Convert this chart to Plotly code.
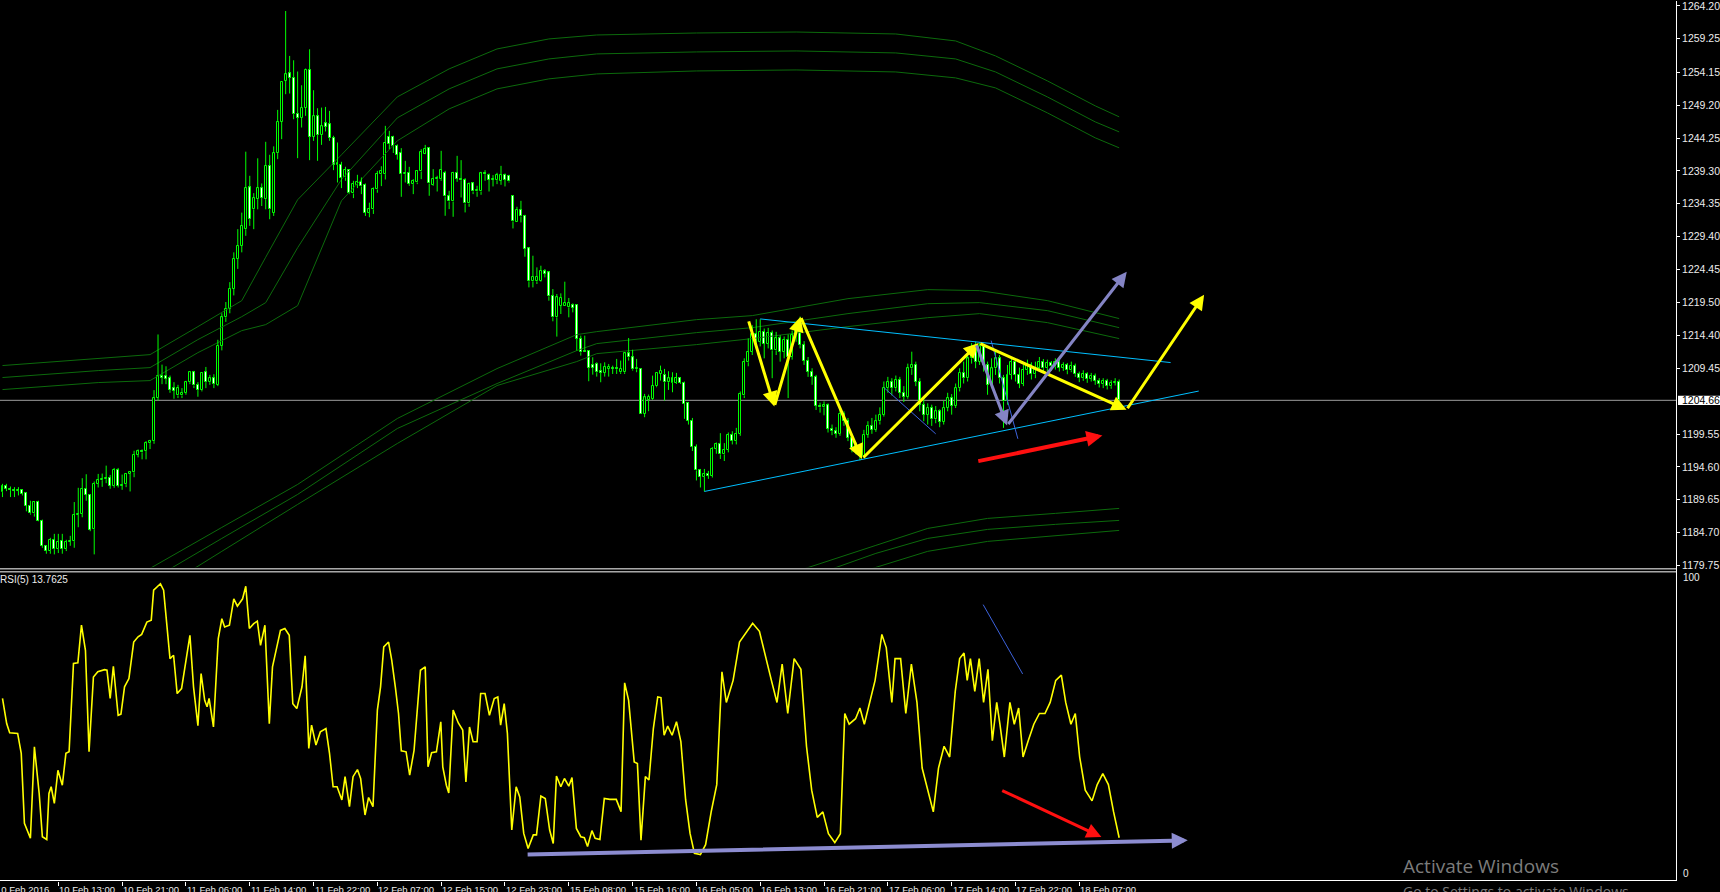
import plotly.graph_objects as go

# ---------------- DATA ----------------
# M30 candles, bar index 0..280 : (open, high, low, close)
bars = [
    (1190.80, 1192.05, 1190.05, 1191.75), (1191.75, 1192.05, 1190.95, 1191.25), (1191.25, 1191.65, 1190.05, 1191.10),
    (1191.10, 1191.55, 1190.05, 1191.00), (1191.00, 1191.55, 1190.30, 1191.10), (1191.10, 1191.25, 1190.30, 1190.50),
    (1190.70, 1190.75, 1187.90, 1188.70), (1188.70, 1189.50, 1187.40, 1187.60), (1187.60, 1189.40, 1187.10, 1189.30),
    (1189.30, 1189.50, 1186.40, 1186.50), (1186.50, 1186.65, 1182.40, 1182.65), (1182.65, 1182.80, 1181.50, 1181.90),
    (1181.90, 1183.90, 1181.50, 1183.60), (1183.60, 1184.50, 1181.40, 1182.20), (1182.20, 1184.50, 1181.60, 1183.30),
    (1183.40, 1184.50, 1181.50, 1182.20), (1182.20, 1183.60, 1181.90, 1183.30), (1183.30, 1184.20, 1182.70, 1183.40),
    (1183.40, 1189.30, 1182.40, 1187.35), (1187.35, 1191.45, 1185.50, 1187.50), (1187.50, 1192.90, 1187.00, 1191.30),
    (1191.30, 1193.50, 1189.50, 1190.40), (1190.40, 1190.50, 1184.90, 1185.10), (1185.20, 1192.40, 1181.40, 1192.10),
    (1192.05, 1193.55, 1191.50, 1192.60), (1192.60, 1193.60, 1191.60, 1192.80), (1192.75, 1194.80, 1192.15, 1192.95),
    (1192.95, 1193.40, 1191.30, 1191.75), (1191.75, 1194.45, 1191.45, 1194.15), (1194.15, 1194.45, 1191.50, 1191.80),
    (1191.80, 1193.45, 1191.15, 1191.95), (1192.00, 1193.65, 1191.55, 1193.55), (1193.55, 1193.95, 1190.90, 1193.80),
    (1193.80, 1197.05, 1193.05, 1196.45), (1196.45, 1197.25, 1196.05, 1196.95), (1196.95, 1197.25, 1195.75, 1196.80),
    (1197.00, 1198.50, 1195.75, 1198.20), (1198.20, 1198.70, 1197.30, 1198.50), (1198.50, 1206.20, 1198.10, 1205.00),
    (1205.00, 1214.60, 1204.60, 1208.40), (1208.40, 1210.05, 1207.10, 1208.10), (1208.40, 1209.80, 1207.10, 1207.90),
    (1208.00, 1208.40, 1205.80, 1206.20), (1206.50, 1207.40, 1204.90, 1206.10), (1205.40, 1207.00, 1205.00, 1206.50),
    (1205.40, 1206.50, 1205.00, 1205.80), (1205.80, 1207.60, 1205.50, 1207.40), (1207.40, 1209.00, 1207.10, 1208.90),
    (1208.90, 1209.10, 1206.50, 1206.90), (1207.00, 1207.40, 1205.20, 1206.20), (1206.20, 1208.90, 1206.00, 1208.80),
    (1208.90, 1209.70, 1206.50, 1207.40), (1207.40, 1208.50, 1207.00, 1208.00), (1208.00, 1208.60, 1206.50, 1207.10),
    (1207.00, 1213.80, 1206.80, 1212.90), (1212.90, 1217.80, 1212.20, 1217.20), (1217.20, 1219.50, 1216.50, 1218.50),
    (1218.50, 1222.50, 1217.80, 1221.50), (1221.50, 1227.00, 1220.50, 1226.00), (1226.00, 1230.50, 1224.50, 1228.00),
    (1228.00, 1233.00, 1227.00, 1231.00), (1230.50, 1242.20, 1229.50, 1236.70), (1236.80, 1238.56, 1231.00, 1232.00),
    (1233.50, 1235.94, 1230.50, 1235.20), (1235.04, 1241.20, 1233.50, 1236.70), (1236.70, 1237.40, 1234.00, 1235.20),
    (1235.04, 1243.69, 1233.50, 1240.07), (1240.07, 1241.73, 1232.00, 1233.50), (1233.00, 1243.00, 1232.50, 1241.98),
    (1241.98, 1248.51, 1241.07, 1246.70), (1246.70, 1252.74, 1244.09, 1252.74), (1252.90, 1263.44, 1250.88, 1253.89),
    (1254.04, 1256.66, 1250.98, 1253.39), (1253.39, 1256.00, 1247.10, 1247.86), (1247.96, 1254.30, 1241.22, 1247.36),
    (1247.36, 1252.23, 1245.85, 1248.86), (1248.86, 1254.75, 1247.61, 1254.55), (1254.55, 1257.66, 1240.92, 1244.49),
    (1244.49, 1251.48, 1243.84, 1247.56), (1247.56, 1248.76, 1240.82, 1244.70), (1244.70, 1248.86, 1243.23, 1246.05),
    (1246.50, 1248.96, 1245.25, 1246.00), (1246.35, 1248.36, 1243.84, 1244.24), (1244.34, 1244.60, 1239.41, 1240.22),
    (1240.22, 1243.59, 1237.55, 1240.42), (1240.17, 1240.67, 1236.70, 1238.21), (1238.31, 1239.92, 1237.80, 1239.46),
    (1239.41, 1239.56, 1235.79, 1235.89), (1235.89, 1237.80, 1235.19, 1237.35), (1237.20, 1238.71, 1236.70, 1237.65),
    (1237.65, 1238.31, 1235.79, 1236.95), (1237.20, 1237.40, 1232.50, 1233.00), (1233.00, 1234.50, 1232.30, 1233.50),
    (1233.50, 1236.80, 1232.80, 1236.50), (1236.50, 1239.30, 1236.00, 1238.81), (1238.80, 1240.00, 1237.00, 1239.30),
    (1238.81, 1246.10, 1238.00, 1243.49), (1244.44, 1245.35, 1242.58, 1243.33), (1244.44, 1244.60, 1242.00, 1243.03),
    (1243.08, 1243.30, 1241.00, 1241.73), (1241.97, 1242.73, 1235.39, 1238.81), (1238.81, 1240.82, 1237.55, 1239.01),
    (1239.01, 1239.91, 1237.05, 1237.30), (1237.30, 1238.05, 1235.79, 1237.80), (1237.55, 1239.41, 1237.30, 1239.31),
    (1239.21, 1242.58, 1238.05, 1242.17), (1241.92, 1243.23, 1241.82, 1242.58), (1242.73, 1242.83, 1235.54, 1237.40),
    (1237.20, 1239.56, 1237.05, 1238.05), (1238.05, 1238.56, 1236.19, 1238.20), (1238.05, 1242.33, 1237.80, 1239.41),
    (1239.01, 1239.31, 1232.52, 1235.44), (1235.44, 1236.29, 1233.53, 1234.68), (1234.68, 1239.16, 1232.37, 1239.01),
    (1239.01, 1241.57, 1237.65, 1238.15), (1238.15, 1240.92, 1235.29, 1237.90), (1237.90, 1238.20, 1233.03, 1234.38),
    (1234.38, 1237.55, 1233.88, 1237.30), (1237.40, 1237.55, 1235.79, 1236.19), (1236.19, 1237.05, 1235.39, 1236.44),
    (1236.19, 1239.16, 1235.69, 1238.91), (1238.91, 1239.41, 1237.80, 1238.81), (1238.71, 1238.91, 1236.19, 1237.95),
    (1237.95, 1238.66, 1236.95, 1238.00), (1237.90, 1239.01, 1237.30, 1238.66), (1237.80, 1240.06, 1237.20, 1238.66),
    (1238.71, 1238.91, 1236.95, 1237.95), (1238.56, 1238.71, 1237.55, 1237.70), (1235.54, 1235.54, 1230.61, 1231.67),
    (1231.52, 1233.88, 1231.52, 1233.38), (1233.43, 1234.78, 1231.52, 1232.42), (1232.52, 1232.67, 1226.34, 1227.50),
    (1227.60, 1227.75, 1221.71, 1222.62), (1222.62, 1226.49, 1221.71, 1223.32), (1222.62, 1224.73, 1222.22, 1223.32),
    (1222.62, 1224.98, 1222.52, 1224.23), (1224.13, 1224.48, 1223.22, 1223.73), (1223.98, 1224.13, 1219.70, 1220.36),
    (1220.46, 1221.46, 1216.59, 1217.19), (1217.19, 1220.71, 1214.28, 1220.21), (1218.95, 1220.81, 1217.69, 1220.11),
    (1218.95, 1222.57, 1218.95, 1219.40), (1218.70, 1220.11, 1217.19, 1219.40), (1219.10, 1219.30, 1217.94, 1218.60),
    (1219.10, 1219.10, 1212.16, 1213.92), (1213.92, 1214.43, 1211.41, 1211.91), (1212.16, 1214.43, 1211.91, 1211.91),
    (1212.16, 1212.16, 1207.54, 1209.55), (1210.05, 1211.16, 1208.54, 1209.55), (1210.15, 1210.40, 1208.24, 1208.90),
    (1209.05, 1210.25, 1207.39, 1208.80), (1208.80, 1210.40, 1208.24, 1209.75), (1209.40, 1210.15, 1208.24, 1209.75),
    (1209.55, 1209.90, 1208.64, 1209.40), (1209.45, 1210.91, 1208.64, 1209.35), (1208.90, 1210.66, 1208.64, 1209.45),
    (1208.90, 1211.91, 1208.64, 1211.76), (1211.76, 1214.07, 1210.66, 1211.16), (1211.16, 1212.30, 1209.15, 1209.35),
    (1209.35, 1210.91, 1208.90, 1209.55), (1209.40, 1209.40, 1202.61, 1202.61), (1202.61, 1205.63, 1202.11, 1205.13),
    (1204.73, 1205.53, 1203.02, 1205.23), (1204.88, 1208.39, 1204.73, 1206.89), (1206.78, 1208.90, 1206.63, 1208.80),
    (1208.64, 1209.90, 1207.64, 1209.15), (1208.49, 1209.40, 1204.63, 1207.39), (1207.39, 1209.05, 1206.23, 1207.99),
    (1207.29, 1208.90, 1205.88, 1207.99), (1207.29, 1208.80, 1207.14, 1207.99), (1207.99, 1208.14, 1207.14, 1207.29),
    (1207.34, 1207.49, 1201.86, 1204.12), (1204.22, 1204.37, 1201.00, 1201.60), (1201.60, 1202.00, 1197.00, 1197.60),
    (1197.60, 1198.00, 1192.56, 1194.07), (1194.07, 1194.30, 1191.50, 1193.10), (1193.10, 1194.30, 1190.90, 1193.60),
    (1193.60, 1194.00, 1192.80, 1193.30), (1193.30, 1197.60, 1193.00, 1197.33), (1197.33, 1198.30, 1196.60, 1198.00),
    (1198.00, 1199.70, 1195.80, 1196.50), (1196.50, 1198.20, 1195.50, 1197.20), (1197.20, 1199.80, 1196.80, 1199.40),
    (1199.40, 1200.00, 1198.00, 1198.50), (1198.50, 1200.50, 1198.00, 1199.60), (1199.60, 1206.00, 1199.30, 1205.60),
    (1205.40, 1211.00, 1205.00, 1210.40), (1210.40, 1214.00, 1209.80, 1212.00), (1212.00, 1216.00, 1211.50, 1214.60),
    (1214.60, 1216.90, 1212.50, 1213.50), (1213.50, 1216.90, 1212.80, 1215.00), (1215.00, 1215.50, 1211.00, 1213.20),
    (1213.20, 1215.60, 1212.50, 1214.80), (1214.80, 1215.20, 1208.00, 1212.20), (1212.20, 1215.00, 1211.50, 1214.00),
    (1214.00, 1214.50, 1210.50, 1212.00), (1212.00, 1214.30, 1211.00, 1213.80), (1213.80, 1214.60, 1205.00, 1211.20),
    (1211.20, 1215.20, 1210.80, 1214.50), (1214.50, 1216.20, 1213.50, 1215.40), (1215.40, 1217.30, 1212.50, 1213.00),
    (1213.00, 1213.60, 1210.00, 1210.60), (1210.60, 1211.20, 1208.20, 1209.00), (1209.00, 1209.50, 1207.00, 1208.20),
    (1208.20, 1208.50, 1203.20, 1203.80), (1203.80, 1204.30, 1202.80, 1203.60), (1203.60, 1204.50, 1202.40, 1203.90),
    (1203.90, 1204.20, 1199.80, 1200.40), (1200.40, 1201.00, 1199.40, 1200.00), (1200.00, 1200.60, 1199.00, 1199.60),
    (1199.60, 1203.50, 1199.30, 1202.60), (1202.60, 1203.00, 1200.80, 1201.50), (1201.50, 1202.00, 1198.50, 1199.00),
    (1199.00, 1199.50, 1196.80, 1197.40), (1197.40, 1198.30, 1196.50, 1197.80), (1197.80, 1198.00, 1195.60, 1196.30),
    (1196.30, 1200.20, 1196.00, 1199.50), (1199.50, 1201.50, 1199.00, 1200.80), (1200.80, 1202.00, 1199.60, 1200.20),
    (1200.20, 1202.50, 1199.90, 1201.50), (1201.50, 1203.60, 1201.00, 1202.50), (1202.50, 1207.50, 1202.20, 1206.50),
    (1206.50, 1208.20, 1205.80, 1207.50), (1207.50, 1208.00, 1205.40, 1206.50), (1206.50, 1208.40, 1206.00, 1207.80),
    (1207.80, 1208.20, 1205.00, 1205.80), (1205.80, 1206.80, 1204.40, 1205.20), (1205.20, 1210.20, 1204.90, 1209.50),
    (1209.50, 1212.00, 1208.50, 1210.00), (1210.00, 1210.50, 1206.80, 1207.50), (1207.50, 1208.00, 1203.00, 1204.00),
    (1204.00, 1205.00, 1201.50, 1202.50), (1202.50, 1204.20, 1201.00, 1203.50), (1203.50, 1204.00, 1200.80, 1201.80),
    (1201.80, 1203.80, 1201.20, 1203.00), (1203.00, 1203.30, 1200.60, 1201.40), (1201.40, 1204.60, 1201.00, 1203.50),
    (1203.50, 1205.80, 1203.00, 1205.00), (1205.00, 1205.60, 1202.50, 1203.80), (1203.80, 1207.20, 1203.50, 1206.50),
    (1206.50, 1209.50, 1206.00, 1208.80), (1208.80, 1210.50, 1207.20, 1208.00), (1208.00, 1212.00, 1207.50, 1211.00),
    (1211.00, 1213.30, 1210.20, 1212.50), (1212.50, 1213.50, 1209.50, 1210.50), (1210.50, 1213.40, 1210.00, 1212.80),
    (1212.80, 1213.20, 1209.00, 1210.00), (1210.00, 1210.50, 1205.50, 1207.00), (1207.00, 1211.00, 1206.50, 1209.50),
    (1209.50, 1212.00, 1208.50, 1211.00), (1211.00, 1211.50, 1207.20, 1208.00), (1208.00, 1208.50, 1200.50, 1204.50),
    (1204.50, 1210.00, 1204.00, 1208.50), (1208.50, 1211.20, 1207.80, 1210.50), (1210.50, 1211.00, 1207.50, 1208.50),
    (1208.50, 1209.60, 1206.50, 1207.20), (1207.20, 1210.00, 1206.80, 1209.20), (1209.20, 1210.80, 1208.50, 1210.00),
    (1210.00, 1210.40, 1207.80, 1208.60), (1208.60, 1210.50, 1208.00, 1209.60), (1209.60, 1211.20, 1209.00, 1210.40),
    (1210.40, 1210.90, 1209.00, 1209.50), (1209.50, 1210.80, 1209.00, 1210.30), (1210.30, 1210.60, 1209.10, 1209.80),
    (1209.80, 1211.00, 1209.30, 1210.40), (1210.40, 1210.80, 1209.00, 1209.60), (1209.60, 1210.40, 1209.10, 1210.00),
    (1210.00, 1210.30, 1208.60, 1209.20), (1209.20, 1210.50, 1208.90, 1209.90), (1209.90, 1210.20, 1208.20, 1208.60),
    (1208.60, 1209.00, 1207.40, 1208.00), (1208.00, 1209.20, 1207.60, 1208.60), (1208.60, 1208.90, 1207.30, 1207.90),
    (1207.90, 1208.80, 1207.50, 1208.40), (1208.40, 1208.70, 1207.00, 1207.60), (1207.60, 1208.00, 1206.60, 1207.10),
    (1207.10, 1208.00, 1206.50, 1207.60), (1207.60, 1207.90, 1206.30, 1206.80), (1206.80, 1207.70, 1206.40, 1207.30),
    (1207.30, 1208.00, 1206.90, 1207.50), (1207.50, 1207.80, 1204.50, 1204.66),
]
open_ = [b[0] for b in bars]
high = [b[1] for b in bars]
low = [b[2] for b in bars]
close = [b[3] for b in bars]
current_price = 1204.66

# dark-green band lines (bar index, price)
bandA_k = [0, 24, 37, 49, 60, 66, 74, 85, 99, 112, 124, 137, 149, 174, 199, 224, 239, 249, 262, 274, 280]
bandA1 = [1209.91, 1210.96, 1211.56, 1215.79, 1219.71, 1226.27, 1234.94, 1241.73, 1250.47, 1254.70, 1257.71, 1259.22,
          1259.82, 1260.12, 1260.27, 1259.97, 1258.92, 1256.66, 1252.89, 1249.12, 1247.46]
bandA2 = [1208.10, 1209.15, 1209.60, 1213.83, 1217.29, 1219.41, 1227.70, 1238.00, 1247.30, 1251.68, 1254.70, 1256.20,
          1256.96, 1257.26, 1257.41, 1257.11, 1256.20, 1254.24, 1250.47, 1246.70, 1245.19]
bandA3 = [1206.28, 1207.34, 1207.64, 1211.86, 1215.18, 1216.09, 1218.95, 1234.79, 1243.84, 1248.66, 1251.68, 1253.19,
          1253.94, 1254.39, 1254.54, 1254.24, 1253.34, 1251.83, 1248.06, 1244.29, 1242.78]
bandB_k = [30, 38, 55, 74, 99, 124, 144, 149, 174, 188, 212, 232, 245, 262, 280]
bandB1 = [1176.88, 1179.59, 1185.47, 1191.96, 1201.91, 1209.45, 1214.58, 1215.03, 1216.84, 1217.45, 1220.01, 1221.37, 1221.22, 1219.71, 1217.00]
bandB2 = [1175.07, 1177.78, 1183.81, 1190.45, 1200.40, 1207.19, 1212.17, 1213.22, 1214.88, 1215.63, 1217.75, 1219.25, 1219.41, 1218.20, 1215.63]
bandB3 = [1172.50, 1175.52, 1181.86, 1188.94, 1198.14, 1206.89, 1210.51, 1211.71, 1213.07, 1213.98, 1215.79, 1217.14, 1217.75, 1216.39, 1213.98]
bandC_k = [196, 202, 219, 232, 247, 264, 280]
bandC1 = [1178.23, 1179.44, 1182.76, 1185.32, 1186.83, 1187.59, 1188.34]
bandC2 = [1176.58, 1177.93, 1181.55, 1183.81, 1185.17, 1185.93, 1186.53]
bandC3 = [1175.22, 1176.27, 1179.44, 1181.86, 1183.36, 1184.27, 1185.02]

# RSI(5) line vertices (bar index, value)
rsi_points = [
    (0, 59.2), (1.05, 51.0), (1.8, 48.0), (3.8, 47.8), (4.7, 41.3), (5.5, 18.5), (7.0, 13.6), (8.0, 43.4), (9.2, 28.2),
    (10.0, 14.1), (11.1, 13.2), (11.65, 28.2), (12.2, 30.4), (13.0, 25.0), (13.9, 35.8), (15.0, 30.9), (15.9, 41.3),
    (16.7, 41.8), (17.8, 70.6), (18.9, 70.8), (19.8, 83.1), (20.8, 74.9), (21.7, 41.8), (22.3, 54.8), (22.8, 66.2),
    (23.9, 67.9), (25.6, 68.6), (26.2, 68.4), (27.0, 59.2), (27.8, 69.7), (29.0, 53.7), (29.7, 54.1), (30.6, 63.0),
    (31.7, 65.7), (32.9, 77.6), (34.0, 79.3), (34.9, 80.1), (36.2, 84.1), (37.3, 84.7), (37.9, 94.5), (39.6, 96.6),
    (40.4, 94.5), (41.2, 82.0), (42.0, 72.2), (42.9, 73.3), (43.8, 60.8), (44.9, 62.4), (46.3, 73.8), (47.0, 79.8),
    (47.9, 63.0), (49.0, 50.3), (49.8, 67.3), (50.7, 58.6), (51.3, 56.5), (51.8, 59.2), (52.9, 49.9), (54.1, 78.7),
    (55.0, 85.2), (55.7, 82.5), (56.9, 83.1), (58.0, 91.7), (58.9, 89.3), (60.2, 91.7), (61.0, 95.8), (61.9, 82.0),
    (63.0, 83.6), (63.9, 84.4), (64.7, 76.5), (65.8, 83.1), (66.9, 51.0), (67.7, 69.5), (68.6, 74.9), (69.7, 81.4),
    (70.8, 82.0), (71.9, 79.8), (72.8, 57.5), (73.8, 55.9), (75.1, 63.0), (75.9, 73.1), (76.8, 42.9), (77.5, 50.5),
    (78.6, 44.0), (79.7, 48.3), (81.1, 49.4), (82.0, 41.3), (82.9, 30.4), (83.9, 30.4), (85.1, 26.1), (85.9, 33.7),
    (87.0, 23.9), (87.9, 33.7), (89.0, 36.0), (89.8, 33.1), (90.9, 21.2), (91.8, 26.9), (92.9, 23.9), (94.0, 55.4),
    (94.8, 63.0), (95.6, 76.0), (96.8, 77.6), (97.6, 71.7), (98.5, 63.0), (99.3, 54.3), (100.0, 42.1), (101.2, 41.8),
    (102.1, 34.2), (103.2, 42.3), (104.8, 68.4), (106.0, 69.5), (106.7, 36.9), (107.6, 41.5), (108.8, 41.8),
    (109.9, 51.6), (110.4, 36.9), (111.3, 30.9), (111.9, 28.4), (113.0, 55.4), (114.3, 51.2), (115.4, 48.9),
    (116.2, 32.0), (117.1, 49.9), (118.0, 45.1), (119.0, 45.1), (119.9, 60.8), (121.0, 60.8), (122.1, 53.7),
    (123.3, 59.2), (124.2, 59.7), (124.9, 50.5), (125.8, 57.5), (126.6, 47.8), (127.7, 16.3), (128.8, 30.4),
    (129.7, 27.1), (130.7, 15.2), (131.8, 10.3), (133.1, 14.7), (133.9, 14.7), (135.0, 27.4), (136.1, 26.6),
    (137.2, 16.3), (138.1, 11.9), (138.9, 33.9), (140.0, 30.4), (140.9, 33.1), (142.0, 30.6), (142.8, 33.4),
    (143.9, 16.8), (145.0, 14.1), (145.9, 13.8), (146.7, 10.9), (147.8, 16.1), (148.6, 13.6), (149.8, 13.2),
    (150.9, 26.6), (152.3, 26.3), (153.9, 26.3), (155.1, 22.3), (156.0, 64.3), (157.0, 58.6), (158.4, 38.5),
    (159.2, 38.0), (160.1, 13.0), (161.2, 33.7), (162.1, 32.6), (163.2, 49.4), (164.3, 59.7), (165.1, 59.5),
    (165.9, 47.2), (166.8, 50.2), (167.9, 47.2), (169.0, 51.6), (170.1, 45.1), (171.3, 26.1), (172.4, 15.2),
    (173.5, 8.7), (175.0, 8.3), (176.3, 11.5), (177.7, 22.2), (179.1, 31.1), (180.4, 67.9), (181.5, 57.9),
    (183.2, 65.1), (184.8, 77.6), (186.7, 81.1), (188.1, 83.7), (189.8, 81.1), (191.4, 72.2), (192.8, 65.1),
    (194.2, 57.9), (195.5, 70.4), (196.9, 54.3), (198.5, 72.2), (200.2, 68.7), (201.6, 43.6), (202.9, 29.3),
    (204.3, 20.4), (205.7, 22.2), (207.1, 15.1), (208.7, 12.2), (210.1, 15.1), (211.2, 54.3), (212.3, 50.8),
    (213.9, 52.6), (215.0, 56.1), (216.1, 50.8), (217.5, 57.9), (218.8, 65.1), (220.5, 80.1), (221.6, 75.8),
    (223.0, 57.9), (223.8, 72.2), (225.2, 72.2), (226.5, 54.3), (227.9, 70.4), (229.3, 57.9), (230.6, 36.5),
    (232.0, 29.3), (233.4, 22.2), (234.7, 36.5), (236.1, 43.6), (237.5, 40.1), (238.9, 61.5), (240.0, 72.2),
    (241.1, 74.0), (241.9, 65.1), (242.7, 72.2), (243.8, 61.5), (244.9, 72.2), (246.0, 57.9), (247.1, 68.7),
    (248.2, 45.4), (249.3, 57.9), (250.1, 50.8), (251.2, 40.1), (252.6, 57.9), (253.7, 50.8), (254.8, 56.1),
    (255.9, 40.1), (257.2, 45.4), (258.6, 50.8), (260.0, 54.3), (261.4, 54.3), (262.7, 57.9), (264.1, 65.1),
    (265.5, 66.8), (266.6, 57.9), (267.9, 50.8), (269.0, 54.3), (270.1, 40.1), (271.5, 29.3), (273.2, 25.8),
    (274.5, 31.1), (275.9, 34.7), (277.3, 31.1), (278.6, 22.2), (280.0, 13.7625),
]
rsi_x = [p[0] for p in rsi_points]
rsi_y = [p[1] for p in rsi_points]
rsi_last = "13.7625"

# price-axis labels (MT4 style)
price_ticks = [1264.20, 1259.25, 1254.15, 1249.20, 1244.25, 1239.30, 1234.35, 1229.40, 1224.45,
               1219.50, 1214.40, 1209.45, 1199.55, 1194.60, 1189.65, 1184.70, 1179.75]
price_tick_text = ["%.2f" % v for v in price_ticks]

# time-axis labels (bar index of each label)
time_ticks = [-2, 14, 30, 46, 62, 78, 94, 110, 126, 142, 158, 174, 190, 206, 222, 238, 254, 270]
time_labels = ["10 Feb 2016", "10 Feb 13:00", "10 Feb 21:00", "11 Feb 06:00", "11 Feb 14:00", "11 Feb 22:00",
               "12 Feb 07:00", "12 Feb 15:00", "12 Feb 23:00", "15 Feb 08:00", "15 Feb 16:00", "16 Feb 05:00",
               "16 Feb 13:00", "16 Feb 21:00", "17 Feb 06:00", "17 Feb 14:00", "17 Feb 22:00", "18 Feb 07:00"]

# drawn objects (bar index, price / RSI value)
yellow_k = [187.0, 193.55, 200.1, 215.5, 244.8, 281.85, 301.3]
yellow_p = [1216.81, 1203.74, 1217.29, 1195.80, 1213.33, 1203.24, 1220.60]
gray_k = [244.1, 251.9, 281.9]
gray_p = [1213.18, 1200.86, 1224.08]
red_k = [244.3, 275.8]
red_p = [1195.43, 1199.35]
cyan_upper_k = [190.0, 292.9]
cyan_upper_p = [1216.95, 1210.36]
cyan_lower_k = [176.0, 299.95]
cyan_lower_p = [1190.90, 1206.06]
blue1_k = [221.1, 234.0]
blue1_p = [1206.54, 1199.60]
blue2_k = [247.9, 254.6]
blue2_p = [1213.68, 1198.85]
rsi_gray_k = [131.3, 297.2]
rsi_gray_v = [8.27, 12.93]
rsi_red_k = [250.3, 275.55]
rsi_red_v = [29.4, 14.0]
rsi_blue_k = [245.9, 255.8]
rsi_blue_v = [89.8, 67.2]

# ---------------- FIGURE ----------------
LIME = "#00ff00"
BAND = "#0c6a0c"
FONT = "Liberation Sans"
TXT = "#ececec"
XRANGE = [-0.625, 419.625]
PLOT_W = 1681.0
idx = list(range(len(bars)))

fig = go.Figure()

for bk, series in ((bandA_k, (bandA1, bandA2, bandA3)), (bandB_k, (bandB1, bandB2, bandB3)),
                   (bandC_k, (bandC1, bandC2, bandC3))):
    for s in series:
        fig.add_trace(go.Scatter(x=bk, y=s, mode="lines", line=dict(color=BAND, width=1),
                                 xaxis="x", yaxis="y", hoverinfo="skip"))

# candle wicks (outside bodies)
wx, wy = [], []
for i, o, h, l, c in zip(idx, open_, high, low, close):
    top, bot = max(o, c), min(o, c)
    if h > top:
        wx += [i, i, None]
        wy += [h, top, None]
    if l < bot:
        wx += [i, i, None]
        wy += [bot, l, None]
fig.add_trace(go.Scatter(x=wx, y=wy, mode="lines", line=dict(color=LIME, width=1),
                         xaxis="x", yaxis="y", hoverinfo="skip", connectgaps=False))

# candle bodies
body_base = [min(o, c) for o, c in zip(open_, close)]
body_h = [max(abs(c - o), 0.12) for o, c in zip(open_, close)]
body_col = ["#000000" if c >= o else "#ffffff" for o, c in zip(open_, close)]
fig.add_trace(go.Bar(x=idx, y=body_h, base=body_base, width=0.5,
                     marker=dict(color=body_col, line=dict(color=LIME, width=1)),
                     xaxis="x", yaxis="y", hoverinfo="skip"))

# trend lines
for kk, pp, col in ((cyan_upper_k, cyan_upper_p, "#00bfff"), (cyan_lower_k, cyan_lower_p, "#00bfff"),
                    (blue1_k, blue1_p, "#3d63dd"), (blue2_k, blue2_p, "#3d63dd")):
    fig.add_trace(go.Scatter(x=kk, y=pp, mode="lines", line=dict(color=col, width=1),
                             xaxis="x", yaxis="y", hoverinfo="skip"))

# RSI
fig.add_trace(go.Scatter(x=rsi_x, y=rsi_y, mode="lines", line=dict(color="#ffff00", width=1.6),
                         xaxis="x2", yaxis="y2", hoverinfo="skip"))
fig.add_trace(go.Scatter(x=rsi_blue_k, y=rsi_blue_v, mode="lines", line=dict(color="#3d63dd", width=1),
                         xaxis="x2", yaxis="y2", hoverinfo="skip"))


def arrow(k0, v0, k1, v1, color, width, size, xr="x", yr="y", head=2):
    return dict(x=k1, y=v1, ax=k0, ay=v0, xref=xr, yref=yr, axref=xr, ayref=yr, text="",
                showarrow=True, arrowhead=head, arrowsize=size, arrowwidth=width,
                arrowcolor=color, standoff=0, startstandoff=0)


ann = []
for i in range(len(yellow_k) - 1):
    ann.append(arrow(yellow_k[i], yellow_p[i], yellow_k[i + 1], yellow_p[i + 1], "#ffff00", 3, 1.0))
for i in range(len(gray_k) - 1):
    ann.append(arrow(gray_k[i], gray_p[i], gray_k[i + 1], gray_p[i + 1], "#8484c4", 3, 1.0))
ann.append(arrow(red_k[0], red_p[0], red_k[1], red_p[1], "#ff1010", 4, 0.8))
ann.append(arrow(rsi_gray_k[0], rsi_gray_v[0], rsi_gray_k[1], rsi_gray_v[1], "#8c8cd0", 4, 0.8, "x2", "y2"))
ann.append(arrow(rsi_red_k[0], rsi_red_v[0], rsi_red_k[1], rsi_red_v[1], "#ff1010", 3, 1.0, "x2", "y2"))

# time labels (left-aligned at their tick, MT4 style); positions given in bar units
for k, t in zip(time_ticks, time_labels):
    xpaper = (k - XRANGE[0]) / (XRANGE[1] - XRANGE[0])
    ann.append(dict(x=xpaper, y=0, xref="paper", yref="paper", text=t, showarrow=False, xanchor="left",
                    yanchor="top", xshift=-1, yshift=-1, font=dict(family=FONT, size=9.5, color=TXT)))

# RSI texts
ann.append(dict(x=0, y=0.3428, xref="paper", yref="paper", text="RSI(5) " + rsi_last, showarrow=False,
                xanchor="left", yanchor="middle", xshift=-2, font=dict(family=FONT, size=10, color=TXT)))
ann.append(dict(x=1, y=0.3451, xref="paper", yref="paper", text="100", showarrow=False,
                xanchor="left", yanchor="middle", xshift=5, font=dict(family=FONT, size=10, color=TXT)))
ann.append(dict(x=1, y=0.0080, xref="paper", yref="paper", text="0", showarrow=False,
                xanchor="left", yanchor="middle", xshift=5, font=dict(family=FONT, size=10, color=TXT)))
# current price label
ann.append(dict(x=1, y=current_price, xref="paper", yref="y", text="%.2f" % current_price, showarrow=False,
                xanchor="left", yanchor="middle", xshift=4, font=dict(family=FONT, size=10.5, color="#000000")))
# watermark
ann.append(dict(x=0.8358, y=0.0165, xref="paper", yref="paper", text="Activate Windows", showarrow=False,
                xanchor="left", yanchor="middle", font=dict(family="Open Sans", size=19, color="#7c7c7c")))
ann.append(dict(x=0.8358, y=-0.0115, xref="paper", yref="paper", text="Go to Settings to activate Windows.",
                showarrow=False, xanchor="left", yanchor="middle",
                font=dict(family="Open Sans", size=14, color="#7c7c7c")))

shapes = [
    dict(type="line", xref="paper", yref="y", x0=0, x1=1, y0=current_price, y1=current_price,
         line=dict(color="#9c9c9c", width=1), layer="below"),
    dict(type="rect", xref="paper", yref="y", x0=1.0012, x1=1.03, y0=current_price - 0.72,
         y1=current_price + 0.68, fillcolor="#ffffff", line=dict(width=0), layer="above"),
    dict(type="line", xref="paper", yref="paper", x0=0, x1=1, y0=0.354711, y1=0.354711,
         line=dict(color="#ffffff", width=1)),
    dict(type="line", xref="paper", yref="paper", x0=0, x1=1, y0=0.351305, y1=0.351305,
         line=dict(color="#ffffff", width=1)),
    dict(type="line", xref="paper", yref="paper", x0=0, x1=1, y0=0.000568, y1=0.000568,
         line=dict(color="#ffffff", width=1)),
    dict(type="line", xref="paper", yref="paper", x0=1.000297, x1=1.000297, y0=0, y1=1,
         line=dict(color="#ffffff", width=1)),
]

fig.update_layout(
    width=1720, height=892, margin=dict(l=0, r=39, t=0, b=11),
    paper_bgcolor="#000000", plot_bgcolor="#000000", showlegend=False, hovermode=False,
    bargap=0, barmode="overlay",
    xaxis=dict(domain=[0, 1], range=XRANGE, anchor="y", showticklabels=False, showgrid=False,
               zeroline=False, showline=False, ticks=""),
    yaxis=dict(domain=[0.35641, 1.0], range=[1179.44, 1264.95], anchor="x", side="right",
               tickvals=price_ticks, ticktext=price_tick_text, ticks="outside", ticklen=3,
               tickcolor="#ffffff", tickfont=dict(family=FONT, size=10.5, color=TXT),
               ticklabeloverflow="allow", showgrid=False, zeroline=False, showline=False),
    xaxis2=dict(domain=[0, 1], range=XRANGE, anchor="y2", matches="x", showticklabels=False,
                tickvals=time_ticks[1:], ticks="outside", ticklen=4, tickcolor="#ffffff",
                showgrid=False, zeroline=False, showline=False),
    yaxis2=dict(domain=[0, 0.35074], range=[-0.33, 100.33], anchor="x2", side="right",
                showticklabels=False, ticks="", showgrid=False, zeroline=False, showline=False),
    annotations=ann, shapes=shapes,
)

fig.write_html("out.html", config={"displayModeBar": False},
               post_script="document.body.style.margin='0';document.body.style.overflow='hidden';")
